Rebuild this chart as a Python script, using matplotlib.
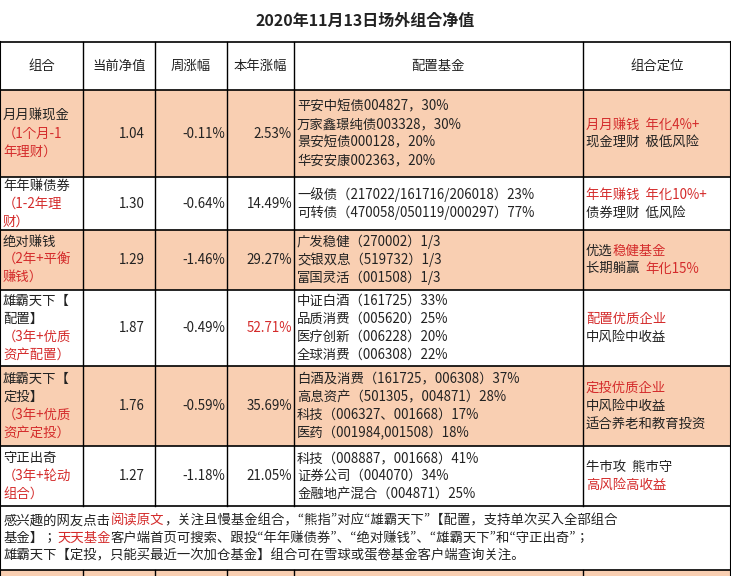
import matplotlib
matplotlib.use("Agg")
from matplotlib import pyplot as plt

plt.rcParams["font.family"] = ["Noto Sans CJK JP", "Noto Sans CJK SC",
                               "Noto Sans CJK TC", "DejaVu Sans"]

PEACH = "#f9cfb2"
RED = "#d42b2b"
BLACK = "#222222"

title = "2020年11月13日场外组合净值"
headers = ["组合", "当前净值", "周涨幅", "本年涨幅", "配置基金", "组合定位"]
nav = ["1.04", "1.30", "1.29", "1.87", "1.76", "1.27"]
week_chg = ["-0.11%", "-0.64%", "-1.46%", "-0.49%", "-0.59%", "-1.18%"]
ytd_chg = ["2.53%", "14.49%", "29.27%", "52.71%", "35.69%", "21.05%"]
ytd_red = [False, False, False, True, False, False]
names = [
    [[("月月赚现金", 0)], [("（1个月-1", 1)], [("年理财）", 1)]],
    [[("年年赚债券", 0)], [("（1-2年理", 1)], [("财）", 1)]],
    [[("绝对赚钱", 0)], [("（2年+平衡", 1)], [("赚钱）", 1)]],
    [[("雄霸天下【", 0)], [("配置】", 0)], [("（3年+优质", 1)], [("资产配置）", 1)]],
    [[("雄霸天下【", 0)], [("定投】", 0)], [("（3年+优质", 1)], [("资产定投）", 1)]],
    [[("守正出奇", 0)], [("（3年+轮动", 1)], [("组合）", 1)]],
]
funds = [
    ["平安中短债004827，30%", "万家鑫璟纯债003328，30%", "景安短债000128，20%", "华安安康002363，20%"],
    ["一级债（217022/161716/206018）23%", "可转债（470058/050119/000297）77%"],
    ["广发稳健（270002）1/3", "交银双息（519732）1/3", "富国灵活（001508）1/3"],
    ["中证白酒（161725）33%", "品质消费（005620）25%", "医疗创新（006228）20%", "全球消费（006308）22%"],
    ["白酒及消费（161725，006308）37%", "高息资产（501305，004871）28%", "科技（006327、001668）17%", "医药（001984,001508）18%"],
    ["科技（008887，001668）41%", "证券公司（004070）34%", "金融地产混合（004871）25%"],
]
positions = [
    [[("月月赚钱  年化4%+", 1)], [("现金理财  极低风险", 0)]],
    [[("年年赚钱  年化10%+", 1)], [("债券理财  低风险", 0)]],
    [[("优选", 0), ("稳健基金", 1)], [("长期躺赢  ", 0), ("年化15%", 1)]],
    [[("配置优质企业", 1)], [("中风险中收益", 0)]],
    [[("定投优质企业", 1)], [("中风险中收益", 0)], [("适合养老和教育投资", 0)]],
    [[("牛市攻  熊市守", 0)], [("高风险高收益", 1)]],
]
footer = [
    [("感兴趣的网友点击", 0), ("阅读原文", 1), ("，关注且慢基金组合，“熊指”对应“雄霸天下”【配置，支持单次买入全部组合", 0)],
    [("基金】；", 0), ("天天基金", 1), ("客户端首页可搜索、跟投“年年赚债券”、“绝对赚钱”、“雄霸天下”和“守正出奇”；", 0)],
    [("雄霸天下【定投，只能买最近一次加仓基金】组合可在雪球或蛋卷基金客户端查询关注。", 0)],
]

col_x = [0, 83, 155, 227, 294, 583, 731]
row_y = [90, 177, 230, 290, 366, 446, 506]
row_fill = [PEACH, "white", PEACH, "white", PEACH, "white"]
LINE = 18
FS = 9.6

fig = plt.figure(figsize=(7.31, 5.76), dpi=100)
ax = fig.add_axes([0, 0, 1, 1])
ax.set_xlim(0, 731)
ax.set_ylim(576, 0)
ax.axis("off")


def rich_line(x, y, runs, fs=FS):
    prev = None
    for text, red in runs:
        color = RED if red else BLACK
        if prev is None:
            prev = ax.text(x, y, text, fontsize=fs, color=color, va="center", ha="left")
        else:
            prev = ax.annotate(text, xy=(1, 0.5), xycoords=prev, fontsize=fs,
                               color=color, va="center", ha="left")


def rich_block(x, y0, y1, lines, fs=FS, step=LINE):
    mid = (y0 + y1) / 2
    start = mid - step * (len(lines) - 1) / 2
    for i, runs in enumerate(lines):
        rich_line(x, start + i * step, runs, fs)


# backgrounds
for i, color in enumerate(row_fill):
    ax.add_patch(plt.Rectangle((0, row_y[i]), 731, row_y[i + 1] - row_y[i], color=color, zorder=0))
ax.add_patch(plt.Rectangle((0, 570), 731, 6, color=PEACH, zorder=0))

# grid lines
for y in [42, 90] + row_y[1:] + [570]:
    ax.plot([0, 731], [y, y], color="black", lw=1.2)
for x in col_x[1:-1]:
    ax.plot([x, x], [42, 506], color="black", lw=1)
    ax.plot([x, x], [570, 576], color="black", lw=1)
ax.plot([0, 0], [42, 576], color="black", lw=1.5)
ax.plot([730.5, 730.5], [42, 576], color="black", lw=1.5)

ax.text(365, 21, title, fontsize=11.5, fontweight="bold", ha="center", va="center", color=BLACK)

for i, h in enumerate(headers):
    ax.text((col_x[i] + col_x[i + 1]) / 2, 66, h, fontsize=FS, ha="center", va="center", color=BLACK)

for r in range(6):
    y0, y1 = row_y[r], row_y[r + 1]
    ym = (y0 + y1) / 2
    rich_block(3, y0, y1, names[r])
    ax.text(col_x[2] - 10, ym, nav[r], fontsize=FS, ha="right", va="center", color=BLACK)
    ax.text(col_x[3] - 2, ym, week_chg[r], fontsize=FS, ha="right", va="center", color=BLACK)
    ax.text(col_x[4] - 2, ym, ytd_chg[r], fontsize=FS, ha="right", va="center",
            color=RED if ytd_red[r] else BLACK)
    rich_block(297, y0, y1, [[(f, 0)] for f in funds[r]])
    rich_block(586, y0, y1, positions[r])

rich_block(4, 506, 570, footer, step=17.5)

fig.savefig("out.png", dpi=100)
